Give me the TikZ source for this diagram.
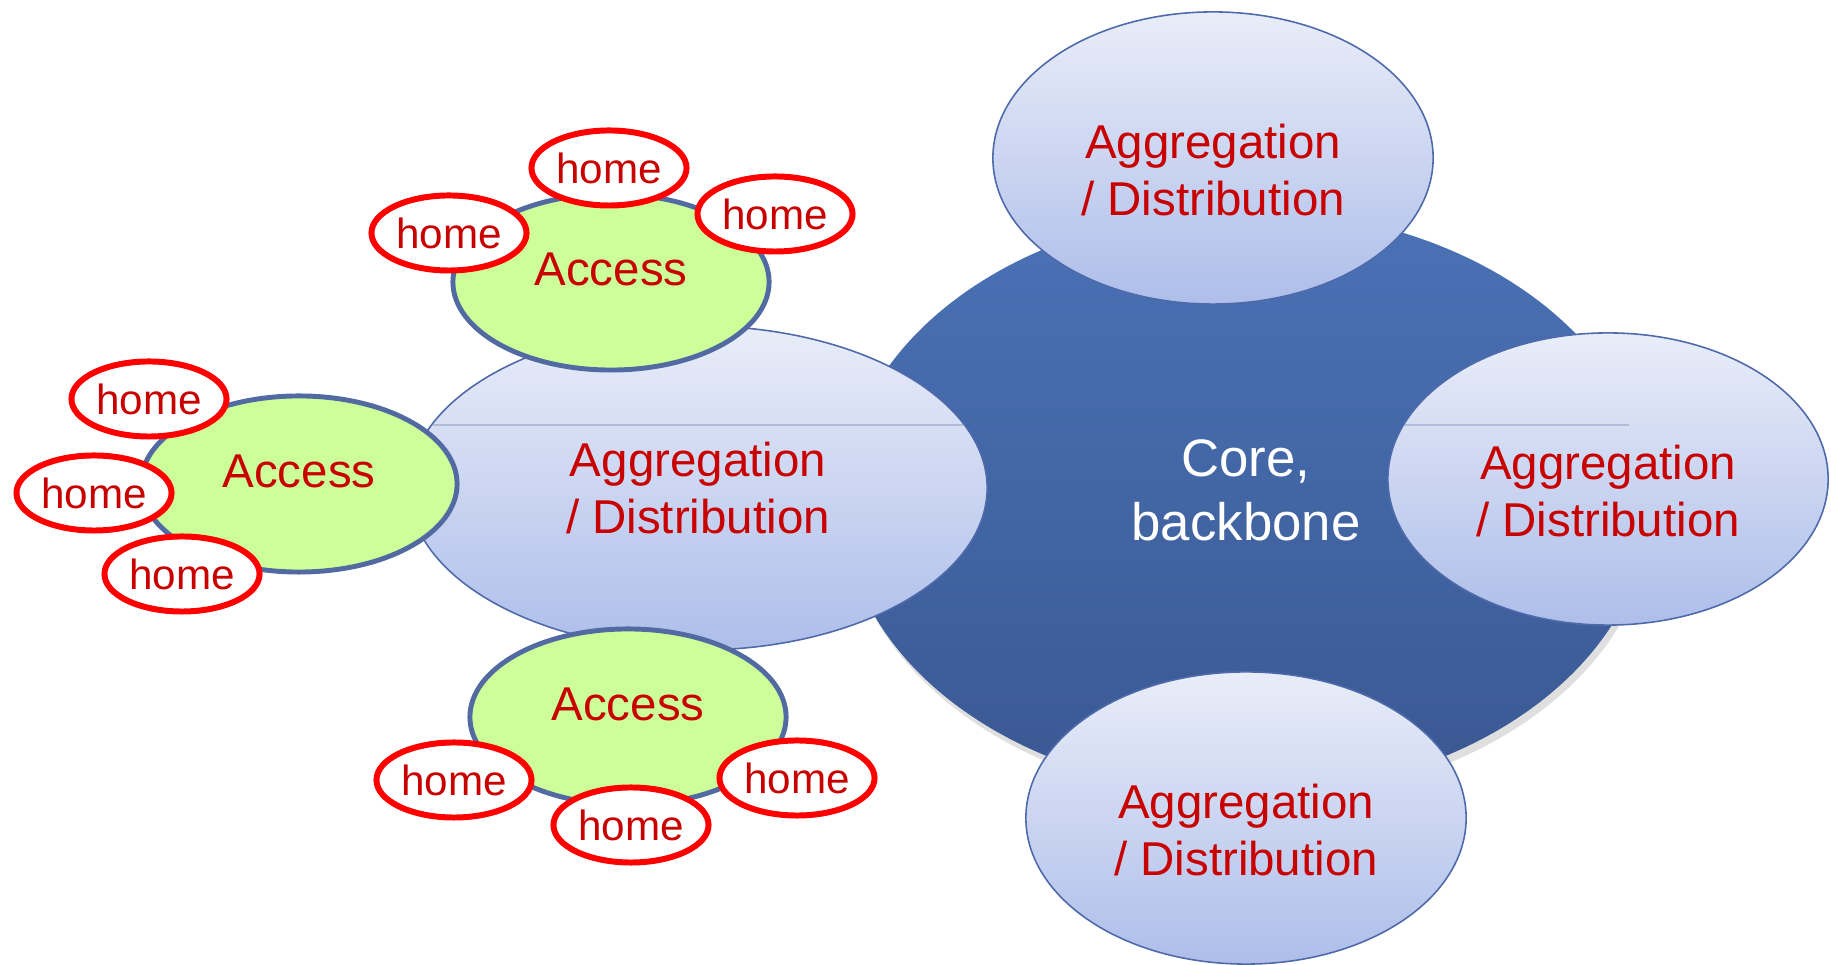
\documentclass[tikz,border=0pt]{standalone}
\usepackage{fontspec}
\setmainfont{Liberation Sans}
\usetikzlibrary{shapes.geometric,shadows}

\definecolor{aggtop}{RGB}{233,237,249}
\definecolor{aggbot}{RGB}{174,190,234}
\definecolor{aggline}{RGB}{79,106,170}
\definecolor{coretop}{RGB}{74,114,182}
\definecolor{corebot}{RGB}{58,88,146}
\definecolor{accfill}{RGB}{204,255,153}
\definecolor{accline}{RGB}{82,106,162}
\definecolor{labred}{RGB}{200,0,0}
\definecolor{homered}{RGB}{255,0,0}

\tikzset{
  coreblob/.style={ellipse,minimum width=8.06cm,minimum height=5.84cm,inner sep=0pt,
    top color=coretop,bottom color=corebot,
    drop shadow={opacity=0.25,shadow xshift=1pt,shadow yshift=-2pt}},
  coretext/.style={text=white,align=center,font=\fontsize{15}{18.2}\selectfont},
  aggblob/.style={ellipse,minimum width=4.40cm,minimum height=2.92cm,inner sep=0pt,
    draw=aggline,line width=0.45pt,top color=aggtop,bottom color=aggbot},
  aggtext/.style={text=labred,align=center,font=\fontsize{13.5}{16}\selectfont},
  accblob/.style={ellipse,minimum width=3.16cm,minimum height=1.76cm,inner sep=0pt,
    draw=accline,line width=1.4pt,fill=accfill,text=labred,text depth=0.26cm,
    font=\fontsize{13.5}{16}\selectfont},
  homeblob/.style={ellipse,minimum width=1.55cm,minimum height=0.75cm,inner sep=0pt,
    draw=homered,line width=1.7pt,fill=white,text=labred,
    font=\fontsize{12}{14}\selectfont},
  seam/.style={draw=aggline!45,line width=0.3pt}
}

\begin{document}
\begin{tikzpicture}[x=0.01cm,y=-0.01cm]
  % Fix the page to the size of the picture
  \useasboundingbox (0,0) rectangle (1831,965);

  % Draw the core
  \node[coreblob] (core) at (1246,502) {};
  \node[coretext] (coreT) at ([yshift=0.12cm]core.center) {Core,\\backbone};

  % Draw the aggregation rings round the core
  \node[aggblob] (aggT) at (1213,158) {};
  \node[aggblob] (aggR) at (1608,479) {};
  \node[aggblob] (aggB) at (1246,818) {};
  \node[aggblob,minimum width=5.78cm,minimum height=3.24cm] (aggL) at (698,488) {};

  % Draw the seams of the shading
  \draw[seam] (433,425) -- (963,425);
  \draw[seam] (1405,425) -- (1629,425);

  % Label the aggregation rings
  \node[aggtext] (aggTtxt) at ([yshift=-0.12cm]aggT.center) {Aggregation\\/ Distribution};
  \node[aggtext] (aggRtxt) at ([yshift=-0.12cm]aggR.center) {Aggregation\\/ Distribution};
  \node[aggtext] (aggBtxt) at ([yshift=-0.12cm]aggB.center) {Aggregation\\/ Distribution};
  \node[aggtext] (aggLtxt) at (aggL.center) {Aggregation\\/ Distribution};

  % Draw the access rings
  \node[accblob] (accT) at (611,282) {Access};
  \node[accblob] (accL) at (299,484) {Access};
  \node[accblob] (accB) at (628,717) {Access};

  % Draw the homes
  \node[homeblob] (h1) at (449,233) {home};
  \node[homeblob] (h2) at (609,168) {home};
  \node[homeblob] (h3) at (775,214) {home};
  \node[homeblob] (h4) at (149,399) {home};
  \node[homeblob] (h5) at (94,493) {home};
  \node[homeblob] (h6) at (182,574) {home};
  \node[homeblob] (h7) at (454,780) {home};
  \node[homeblob] (h8) at (631,825) {home};
  \node[homeblob] (h9) at (797,778) {home};
\end{tikzpicture}
\end{document}
